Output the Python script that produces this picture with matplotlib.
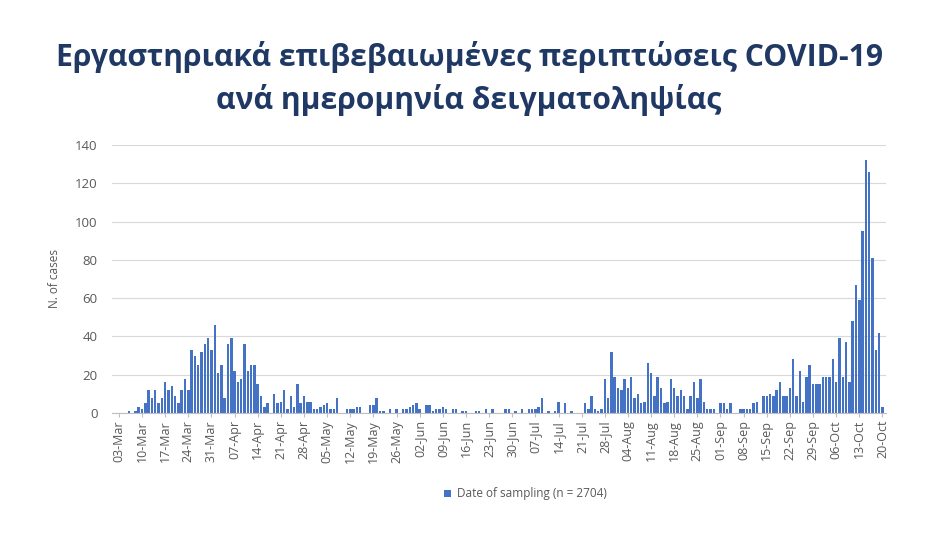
# Εργαστηριακά επιβεβαιωμένα κρούσματα ανά ημέρα δειγματοληψίας
import matplotlib.pyplot as plt
import numpy as np

# Ημερήσια κρούσματα (από 03-Mar έως 20-Oct)
mar = [0, 0, 0, 1, 0, 1, 3, 2, 5, 12, 8, 12, 5, 8, 16, 12, 14, 9, 5, 12,
       18, 12, 33, 30, 25, 32, 36, 39, 33]
apr = [46, 21, 25, 8, 36, 39, 22, 16, 18, 36, 22, 25, 25, 15, 9, 3, 5, 0, 10, 5,
       6, 12, 2, 9, 3, 15, 5, 9, 6, 6]
may = [2, 2, 3, 4, 5, 2, 2, 8, 0, 0, 2, 2, 2, 3, 3, 0, 0, 4, 4, 8,
       1, 1, 0, 2, 0, 2, 0, 2, 2, 3, 4]
jun = [5, 2, 0, 4, 4, 1, 2, 2, 3, 2, 0, 2, 2, 0, 1, 1, 0, 0, 1, 1,
       0, 2, 0, 2, 0, 0, 0, 2, 2, 0]
jul = [1, 0, 2, 0, 2, 2, 2, 3, 8, 0, 1, 0, 1, 6, 0, 5, 0, 1, 0, 0,
       0, 5, 2, 9, 2, 1, 2, 18, 8, 32, 19]
aug = [13, 12, 18, 13, 19, 8, 10, 5, 6, 26, 21, 9, 19, 13, 5, 6, 18, 13, 9, 12,
       9, 2, 9, 16, 8, 18, 6, 2, 2, 2, 0]
sep = [5, 5, 2, 5, 0, 0, 2, 2, 2, 2, 5, 6, 0, 9, 9, 10, 9, 12, 16, 9,
       9, 13, 28, 9, 22, 6, 19, 25, 15, 15]
oct_ = [15, 19, 19, 19, 28, 16, 39, 19, 37, 16, 48, 67, 59, 95, 132, 126, 81, 33, 42, 3]

cases = np.array(mar + apr + may + jun + jul + aug + sep + oct_)
days = np.arange(len(cases))

# Ετικέτες άξονα x (κάθε 7 ημέρες)
ticklabels = ['03-Mar', '10-Mar', '17-Mar', '24-Mar', '31-Mar', '07-Apr', '14-Apr',
              '21-Apr', '28-Apr', '05-May', '12-May', '19-May', '26-May', '02-Jun',
              '09-Jun', '16-Jun', '23-Jun', '30-Jun', '07-Jul', '14-Jul', '21-Jul',
              '28-Jul', '04-Aug', '11-Aug', '18-Aug', '25-Aug', '01-Sep', '08-Sep',
              '15-Sep', '22-Sep', '29-Sep', '06-Oct', '13-Oct', '20-Oct']
tickpos = np.arange(len(ticklabels)) * 7

grey = '#595959'
navy = '#1F3864'
fam = ['Open Sans', 'DejaVu Sans']

fig = plt.figure(figsize=(9.38, 5.44), dpi=100)
ax = fig.add_axes([0.119, 0.2408, 0.826, 0.4927])

ax.bar(days, cases, width=0.75, color='#4472C4', label='Date of sampling (n = 2704)')

ax.set_xlim(-2.2, 232.2)
ax.set_ylim(0, 140)
ax.set_yticks(np.arange(0, 141, 20))
ax.set_xticks(tickpos)
ax.set_xticklabels(ticklabels, rotation=90, family=fam)
ax.tick_params(axis='x', colors='#BFBFBF', labelcolor=grey, labelsize=9, length=3, pad=2)
ax.tick_params(axis='y', length=0, labelcolor=grey, labelsize=9.5, pad=10)
for lab in ax.get_yticklabels():
    lab.set_family(fam)

ax.grid(axis='y', color='#D9D9D9', linewidth=0.8)
ax.set_axisbelow(True)
for s in ['top', 'right', 'left']:
    ax.spines[s].set_visible(False)
ax.spines['bottom'].set_color('#BFBFBF')

ax.set_ylabel('N. of cases', color=grey, fontsize=8.5, family=fam, labelpad=10)

# Τίτλος
fig.text(0.5, 1 - 57 / 544, 'Εργαστηριακά επιβεβαιωμένες περιπτώσεις COVID-19',
         ha='center', va='center', fontsize=21.7, fontweight='bold', color=navy, family=fam)
fig.text(0.5, 1 - 100 / 544, 'ανά ημερομηνία δειγματοληψίας',
         ha='center', va='center', fontsize=21.7, fontweight='bold', color=navy, family=fam)

fig.legend(loc='center', bbox_to_anchor=(525 / 938, 1 - 494 / 544), frameon=False,
           handlelength=0.6, handleheight=0.6, handletextpad=0.5,
           prop={'family': fam, 'size': 8.5}, labelcolor=grey)

plt.savefig('out.png', dpi=100)
